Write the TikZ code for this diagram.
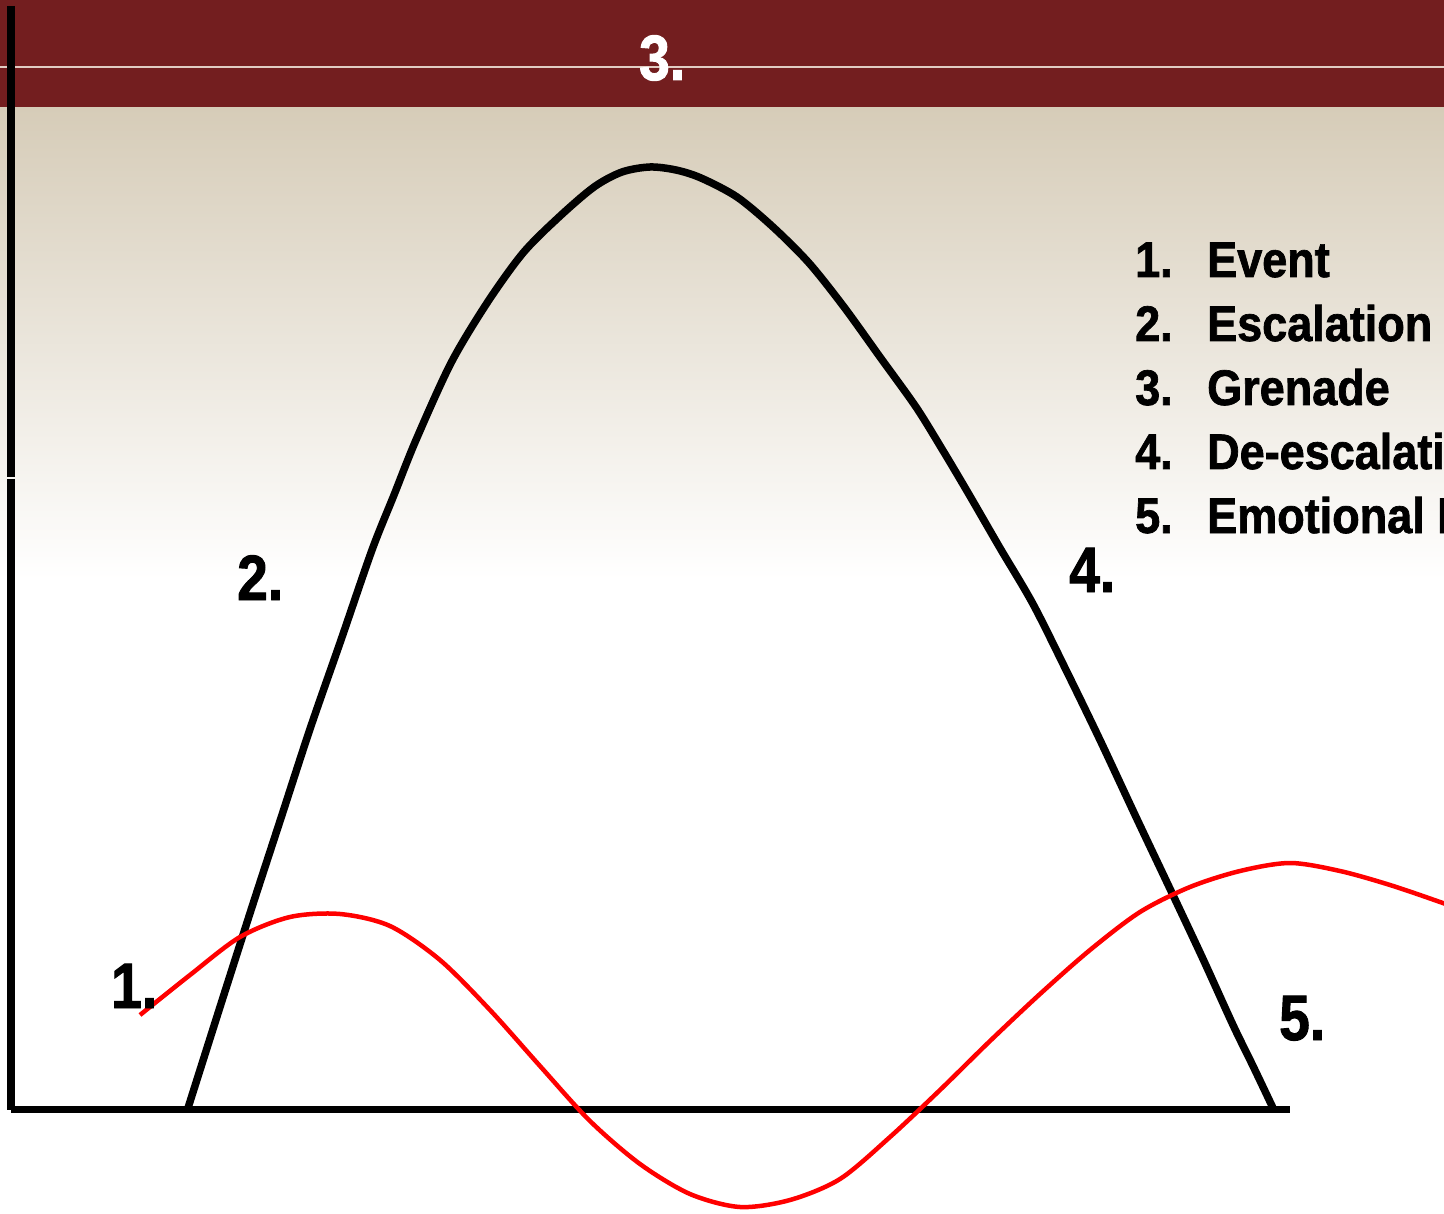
\documentclass[tikz,border=0pt]{standalone}
\usepackage{fontspec}
\newfontfamily\lblfont{Liberation Sans}[FakeStretch=0.86,FakeBold=1.5]
\newfontfamily\legfont{Liberation Sans}[FakeStretch=0.90,FakeBold=1.4]
\definecolor{barred}{RGB}{115,30,31}
\definecolor{beige}{RGB}{214,204,184}
\definecolor{midbeige}{RGB}{233,230,216}
\definecolor{barline}{RGB}{225,205,195}
\tikzset{
  axisline/.style={black, line cap=butt},
  bigcurve/.style={black, line width=7.5pt, line join=round},
  redcurve/.style={red, line width=4.5pt, line join=round},
  lbl/.style={inner sep=0pt, anchor=base west, font=\lblfont\bfseries\fontsize{64}{64}\selectfont},
  leg/.style={inner sep=0pt, anchor=base west, font=\legfont\bfseries\fontsize{50}{50}\selectfont}
}
\begin{document}
\begin{tikzpicture}[x=1pt,y=-1pt]
\path[use as bounding box, clip] (0,0) rectangle (1444,1214);
\fill[white] (0,0) rectangle (1444,1214);
\shade[top color=beige, middle color=midbeige, bottom color=white] (0,107) rectangle (1444,580);
\fill[barred] (0,0) rectangle (1444,107);
\draw[barline, line width=1.2pt] (0,67) -- (1444,67);

% axes
\coordinate (ytop) at (11,6);
\coordinate (ybreak1) at (11,477.4);
\coordinate (ybreak2) at (11,478.8);
\coordinate (origin) at (11,1109.5);
\coordinate (xend) at (1290,1109.5);
\draw[axisline, line width=8pt] (ytop) -- (ybreak1);
\draw[axisline, line width=8pt] (ybreak2) -- (origin);
\draw[axisline, line width=7pt] (origin) -- (xend);

% black intensity curve
\draw[bigcurve] plot[smooth, tension=0.5] coordinates {
  (188,1108) (220,1007) (252,907) (281,818) (310,729) (341,640) (372,550)
  (394,495) (416,440) (451,363) (487,303) (523,253) (559,217) (594,187)
  (622,172) (650,167) (676,170) (701,178) (737,197) (773,227) (809,263)
  (844,307) (880,357) (916,407) (942,449) (967,491) (1000,548) (1033,604)
  (1067,672) (1100,740) (1136,817) (1172,893) (1203,959) (1233,1025)
  (1253,1066) (1273,1108)};

% red curve
\draw[redcurve] plot[smooth, tension=0.5] coordinates {
  (140,1015) (190,975) (240,937) (290,917) (340,914) (390,926) (440,960)
  (490,1010) (540,1066) (590,1121) (640,1164) (690,1194) (740,1207)
  (790,1200) (840,1179) (890,1137) (940,1090) (990,1041) (1040,994)
  (1090,950) (1140,912) (1190,887) (1240,871) (1290,863) (1340,871)
  (1390,885) (1440,902) (1490,920)};

% stage labels
\node[lbl] (l1) at (111,1008) {1.};
\node[lbl] (l2) at (237,600) {2.};
\node[lbl, text=white] (l3) at (639,80) {3.};
\node[lbl] (l4) at (1069,592) {4.};
\node[lbl] (l5) at (1279,1040) {5.};

% legend
\node[leg] (n1) at (1135,277) {1.};
\node[leg] (t1) at (1207,277) {Event};
\node[leg] (n2) at (1135,341) {2.};
\node[leg] (t2) at (1207,341) {Escalation};
\node[leg] (n3) at (1135,405) {3.};
\node[leg] (t3) at (1207,405) {Grenade};
\node[leg] (n4) at (1135,469) {4.};
\node[leg] (t4) at (1207,469) {De-escalation};
\node[leg] (n5) at (1135,533) {5.};
\node[leg] (t5) at (1207,533) {Emotional Hangover};
\end{tikzpicture}
\end{document}
